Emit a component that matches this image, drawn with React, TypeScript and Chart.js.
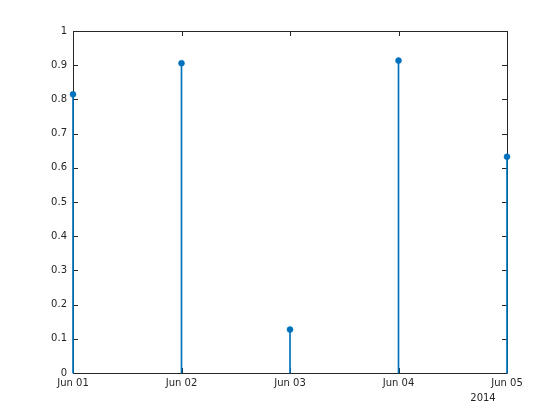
import React, { useEffect, useRef } from "react";
import { Chart, registerables } from "chart.js";

Chart.register(...registerables);

const dateLabels = ["Jun 01", "Jun 02", "Jun 03", "Jun 04", "Jun 05"];
const dayIndex = [0, 1, 2, 3, 4];
const values = [0.8147, 0.9058, 0.127, 0.9134, 0.6324];
const yTicks = [0, 0.1, 0.2, 0.3, 0.4, 0.5, 0.6, 0.7, 0.8, 0.9, 1];
const yearLabel = "2014";

const AXIS_COLOR = "#262626";
const LINE_COLOR = "#0072BD";
const FONT = "DejaVu Sans";

const boxPlugin = {
  id: "matlabBox",
  beforeDatasetsDraw(chart: any) {
    const { ctx, chartArea, scales } = chart;
    const { left, right, top, bottom } = chartArea;
    ctx.save();
    ctx.strokeStyle = AXIS_COLOR;
    ctx.lineWidth = 1;
    ctx.beginPath();
    ctx.rect(Math.round(left) + 0.5, Math.round(top) + 0.5, Math.round(right - left), Math.round(bottom - top));
    ctx.stroke();
    const tl = 5;
    ctx.beginPath();
    for (const v of yTicks) {
      const y = Math.round(scales.y.getPixelForValue(v)) + 0.5;
      ctx.moveTo(left, y);
      ctx.lineTo(left + tl, y);
      ctx.moveTo(right, y);
      ctx.lineTo(right - tl, y);
    }
    for (const v of dayIndex) {
      const x = Math.round(scales.x.getPixelForValue(v)) + 0.5;
      ctx.moveTo(x, bottom);
      ctx.lineTo(x, bottom - tl);
      ctx.moveTo(x, top);
      ctx.lineTo(x, top + tl);
    }
    ctx.stroke();
    ctx.restore();
  },
  afterDraw(chart: any) {
    const { ctx, chartArea } = chart;
    ctx.save();
    ctx.fillStyle = AXIS_COLOR;
    ctx.font = `10px "${FONT}"`;
    ctx.textAlign = "center";
    ctx.textBaseline = "middle";
    ctx.fillText(yearLabel, chartArea.right - 24, chartArea.bottom + 25);
    ctx.restore();
  },
};

export default function App() {
  const ref = useRef<HTMLCanvasElement>(null);
  useEffect(() => {
    if (!ref.current) return;
    const chart = new Chart(ref.current, {
      type: "scatter",
      data: {
        datasets: [
          {
            type: "scatter",
            data: dayIndex.map((x, i) => ({ x, y: values[i] })),
            backgroundColor: LINE_COLOR,
            borderColor: LINE_COLOR,
            pointRadius: 3,
            pointBorderWidth: 0.5,
            clip: false,
            order: 0,
          } as any,
          {
            type: "bar",
            data: dayIndex.map((x, i) => ({ x, y: values[i] })),
            backgroundColor: LINE_COLOR,
            borderWidth: 0,
            barThickness: 1,
            clip: false,
            order: 1,
          } as any,
        ],
      },
      plugins: [boxPlugin],
      options: {
        animation: false,
        responsive: false,
        maintainAspectRatio: false,
        layout: { padding: { left: 0, right: 53, top: 31, bottom: 0 } },
        plugins: { legend: { display: false }, tooltip: { enabled: false } },
        scales: {
          x: {
            type: "linear",
            min: 0,
            max: 4,
            offset: false,
            border: { display: false },
            grid: { display: false, drawTicks: false },
            afterFit(scale: any) {
              scale.height = 47;
            },
            afterBuildTicks(scale: any) {
              scale.ticks = dayIndex.map((v) => ({ value: v }));
            },
            ticks: {
              color: AXIS_COLOR,
              font: { family: FONT, size: 10 },
              padding: 4,
              maxRotation: 0,
              autoSkip: false,
              callback: (v: any) => dateLabels[v] ?? "",
            },
          },
          y: {
            type: "linear",
            min: 0,
            max: 1,
            border: { display: false },
            grid: { display: false, drawTicks: false },
            afterFit(scale: any) {
              scale.width = 73;
            },
            afterBuildTicks(scale: any) {
              scale.ticks = yTicks.map((v) => ({ value: v }));
            },
            ticks: {
              color: AXIS_COLOR,
              font: { family: FONT, size: 10 },
              padding: 6,
              autoSkip: false,
              callback: (v: any) => String(Math.round(v * 10) / 10),
            },
          },
        },
      } as any,
    });
    return () => chart.destroy();
  }, []);
  return (
    <div style={{ position: "fixed", left: 0, top: 0, width: 560, height: 420, background: "#fff" }}>
      <canvas ref={ref} width={560} height={420} />
    </div>
  );
}
